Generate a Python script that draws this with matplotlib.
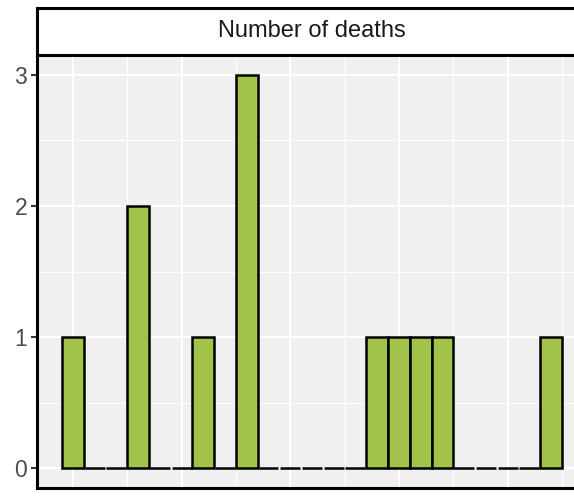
import numpy as np
import matplotlib
matplotlib.use('Agg')
import matplotlib.pyplot as plt

# histogram counts per bin (23 bins)
counts = [1, 0, 0, 2, 0, 0, 1, 0, 3, 0, 0, 0, 0, 0, 1, 1, 1, 1, 0, 0, 0, 0, 1]
strip_title = "Number of deaths"
y_ticks = [0, 1, 2, 3]

plt.rcParams['font.family'] = ['Liberation Sans', 'DejaVu Sans']

fig = plt.figure(figsize=(5.74, 4.98), dpi=100)
ax = fig.add_axes([0.0645, 0.020, 0.958, 0.8695])
ax.set_facecolor('#F0F0F0')

counts = np.array(counts)
left = np.arange(len(counts))
nz = counts > 0
ax.bar(left[nz], counts[nz], width=1, align='edge', color='#A1C349',
       edgecolor='black', linewidth=1.8, zorder=3)
# zero-height bins show as short outline segments
ax.bar(left[~nz] + 0.04, counts[~nz], width=0.92, align='edge', color='#A1C349',
       edgecolor='black', linewidth=1.8, zorder=3)

ax.set_xlim(-1.15, len(counts) + 1.15)
ax.set_ylim(-0.15, 3.15)

# grid lines like ggplot
ax.set_xticks(np.arange(0.5, 23, 5))
ax.set_xticks(np.arange(3, 24, 5), minor=True)
ax.set_yticks(y_ticks)
ax.set_yticks([0.5, 1.5, 2.5], minor=True)
ax.grid(which='major', color='white', linewidth=1.5, zorder=0)
ax.grid(which='minor', color='white', linewidth=0.8, zorder=0)
ax.set_axisbelow(True)

ax.tick_params(axis='x', which='both', length=0, labelbottom=False)
ax.tick_params(axis='y', which='major', length=4, width=1.5, color='#333333',
               labelsize=16.5, labelcolor='#4D4D4D', pad=3)
ax.tick_params(axis='y', which='minor', length=0)

for s in ['top', 'right']:
    ax.spines[s].set_visible(False)
for s in ['left', 'bottom']:
    ax.spines[s].set_linewidth(2.2)
    ax.spines[s].set_color('black')

# facet strip
sax = fig.add_axes([0.0645, 0.8896, 0.958, 0.0944])
sax.set_facecolor('white')
sax.set_xticks([])
sax.set_yticks([])
for s in sax.spines.values():
    s.set_linewidth(2.2)
    s.set_color('black')
sax.text(0.5, 0.5, strip_title, ha='center', va='center', fontsize=17,
         color='#1A1A1A', transform=sax.transAxes)

fig.savefig('out.png', dpi=100)
